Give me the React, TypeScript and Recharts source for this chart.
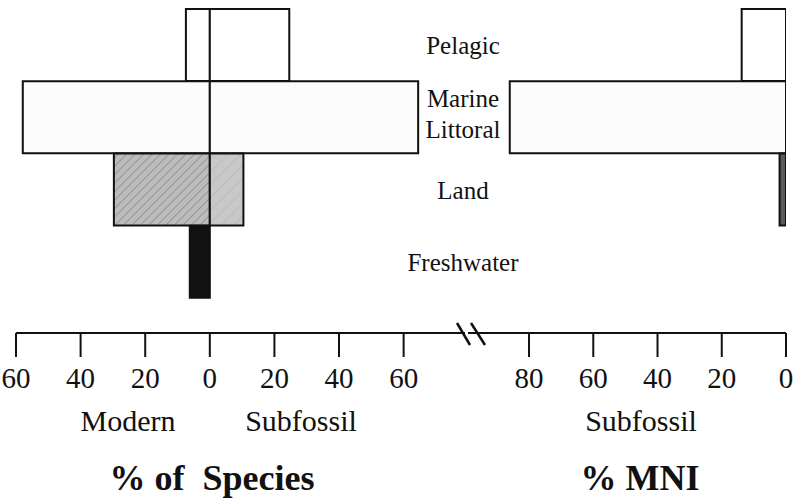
import { Bar, BarChart, Cell, XAxis, YAxis } from "recharts";

const SERIF = '"Liberation Serif", "DejaVu Serif", serif';

// habitat groups, top to bottom
const categories = ["Pelagic", "Marine Littoral", "Land", "Freshwater"];
// % of species
const modernPct = [7.4, 57.9, 29.7, 6.2];
const subfossilPct = [24.6, 64.5, 10.4, 0];
// % MNI (subfossil)
const mniPct = [13.8, 86, 2, 0];

const speciesTicks = [-60, -40, -20, 0, 20, 40, 60];
const mniTicks = [0, 20, 40, 60, 80];

const modernFills = ["#ffffff", "#fbfbfb", "url(#landDense)", "#111111"];
const subfossilFills = ["#ffffff", "#fbfbfb", "url(#landSparse)", "#111111"];
const mniFills = ["#ffffff", "#fbfbfb", "#5a5a5a", "#111111"];

const data = categories.map((cat, i) => ({
  cat,
  modern: -modernPct[i],
  subfossil: subfossilPct[i],
  mni: mniPct[i],
}));

const W = 803;
const H = 501;
const LABEL_X = 463;
const serifStyle = { fontFamily: SERIF };

function renderHabitatTick(props: any) {
  const { y, payload } = props;
  const words = String(payload.value).split(" ");
  if (words.length > 1) {
    return (
      <text x={LABEL_X} y={y} textAnchor="middle" fontSize={25} fill="#111" style={serifStyle}>
        <tspan x={LABEL_X} dy={-10}>{words[0]}</tspan>
        <tspan x={LABEL_X} dy={31}>{words[1]}</tspan>
      </text>
    );
  }
  return (
    <text x={LABEL_X} y={y} dy={9} textAnchor="middle" fontSize={25} fill="#111" style={serifStyle}>
      {payload.value}
    </text>
  );
}

function renderValueTick(props: any) {
  const { x, y, payload } = props;
  return (
    <text x={x} y={y} dy="0.71em" textAnchor="middle" fontSize={29} fill="#111" style={serifStyle}>
      {Math.abs(payload.value)}
    </text>
  );
}

const axisStroke = { stroke: "#111", strokeWidth: 2 };

export default function App() {
  return (
    <div style={{ position: "absolute", left: 0, top: 0, width: W, height: H, background: "#fff", fontFamily: SERIF }}>
      {/* fill patterns for the land bars */}
      <svg width={0} height={0} style={{ position: "absolute" }}>
        <defs>
          <pattern id="landDense" width={6} height={6} patternUnits="userSpaceOnUse" patternTransform="rotate(45)">
            <rect width={6} height={6} fill="#bcbcbc" />
            <line x1={0} y1={0} x2={0} y2={6} stroke="#8a8a8a" strokeWidth={1.5} />
          </pattern>
          <pattern id="landSparse" width={9} height={9} patternUnits="userSpaceOnUse" patternTransform="rotate(45)">
            <rect width={9} height={9} fill="#c8c8c8" />
            <line x1={0} y1={0} x2={0} y2={9} stroke="#b0b0b0" strokeWidth={1} />
          </pattern>
        </defs>
      </svg>

      <div style={{ position: "absolute", left: 0, top: 0 }}>
        <BarChart
          width={W}
          height={H}
          data={data}
          layout="vertical"
          stackOffset="sign"
          barCategoryGap={0}
          margin={{ top: 9, right: 338, bottom: 108, left: 16 }}
        >
          <XAxis
            type="number"
            domain={[-60, 79]}
            allowDataOverflow
            ticks={speciesTicks}
            interval={0}
            tickSize={24}
            tickMargin={10}
            tick={renderValueTick}
            axisLine={axisStroke}
            tickLine={axisStroke}
            height={60}
          />
          <YAxis
            type="category"
            dataKey="cat"
            orientation="right"
            mirror
            axisLine={false}
            tickLine={false}
            interval={0}
            tick={renderHabitatTick}
            padding={{ top: 0, bottom: 35 }}
          />
          <Bar dataKey="modern" stackId="s" stroke="#111" strokeWidth={2} isAnimationActive={false}>
            {data.map((d, i) => (
              <Cell key={d.cat} fill={modernFills[i]} />
            ))}
          </Bar>
          <Bar dataKey="subfossil" stackId="s" stroke="#111" strokeWidth={2} isAnimationActive={false}>
            {data.map((d, i) => (
              <Cell key={d.cat} fill={subfossilFills[i]} />
            ))}
          </Bar>
        </BarChart>
      </div>

      <div style={{ position: "absolute", left: 0, top: 0 }}>
        <BarChart
          width={W}
          height={H}
          data={data}
          layout="vertical"
          barCategoryGap={0}
          margin={{ top: 9, right: 17, bottom: 108, left: 468 }}
        >
          <XAxis
            type="number"
            domain={[0, 99]}
            allowDataOverflow
            reversed
            ticks={mniTicks}
            interval={0}
            tickSize={24}
            tickMargin={10}
            tick={renderValueTick}
            axisLine={axisStroke}
            tickLine={axisStroke}
            height={60}
          />
          <YAxis type="category" dataKey="cat" hide padding={{ top: 0, bottom: 35 }} />
          <Bar dataKey="mni" stroke="#111" strokeWidth={2} isAnimationActive={false}>
            {data.map((d, i) => (
              <Cell key={d.cat} fill={mniFills[i]} />
            ))}
          </Bar>
        </BarChart>
      </div>

      <svg width={W} height={H} style={{ position: "absolute", left: 0, top: 0, pointerEvents: "none" }}>
        {/* axis break */}
        <line x1={457} y1={323} x2={470} y2={345} stroke="#111" strokeWidth={2.5} />
        <line x1={471} y1={323} x2={485} y2={345} stroke="#111" strokeWidth={2.5} />
        <g fill="#111" textAnchor="middle">
          <text x={128} y={431} fontSize={30} style={serifStyle}>Modern</text>
          <text x={301} y={431} fontSize={30} style={serifStyle}>Subfossil</text>
          <text x={641} y={431} fontSize={30} style={serifStyle}>Subfossil</text>
          <text x={212} y={490} fontSize={36} fontWeight="bold" style={{ ...serifStyle, whiteSpace: "pre" }}>% of  Species</text>
          <text x={640} y={490} fontSize={36} fontWeight="bold" style={serifStyle}>% MNI</text>
        </g>
      </svg>
    </div>
  );
}
